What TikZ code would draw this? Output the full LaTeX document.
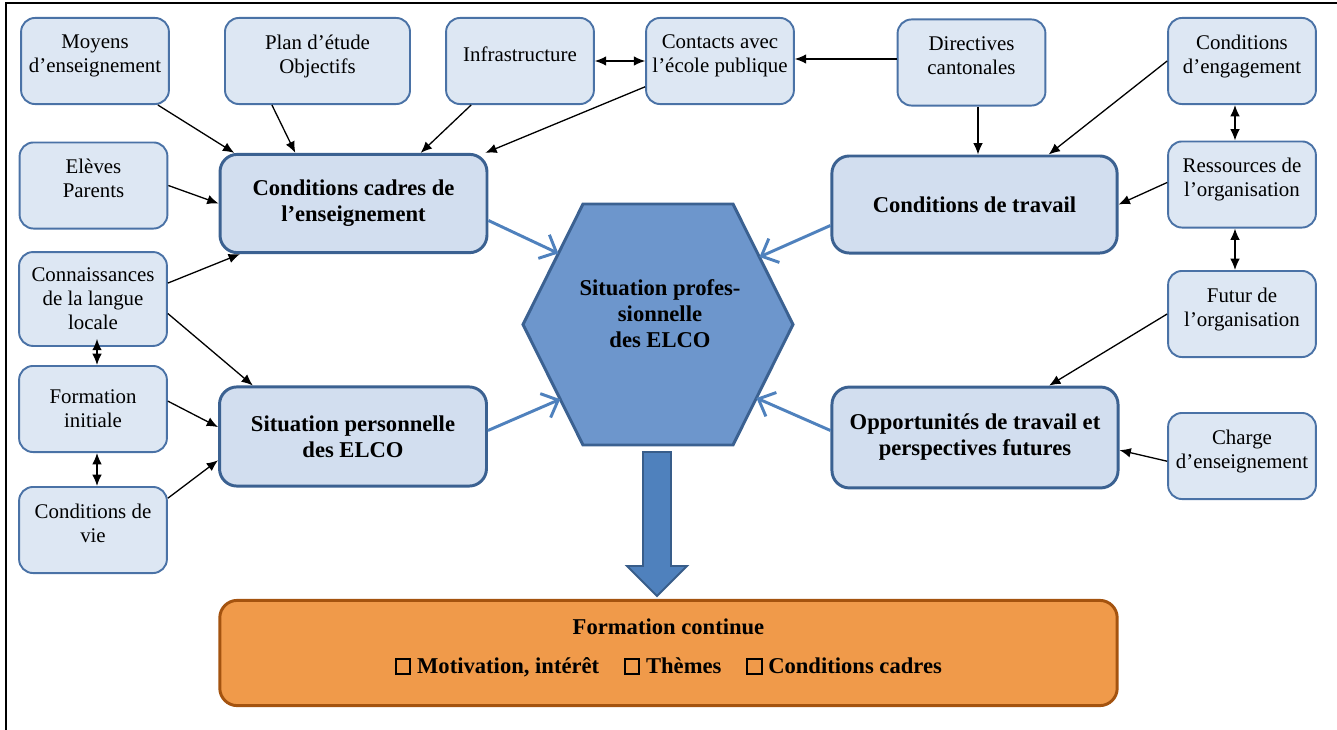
\documentclass[tikz,border=0pt]{standalone}
\usepackage{fontspec}
\setmainfont{Liberation Serif}
\usepackage{tikz}
\usetikzlibrary{arrows.meta,calc}

\definecolor{boxfill}{HTML}{DDE7F3}
\definecolor{boxline}{HTML}{4A72A6}
\definecolor{mainfill}{HTML}{D2DEEF}
\definecolor{mainline}{HTML}{3B6191}
\definecolor{hexfill}{HTML}{6D96CC}
\definecolor{flowblue}{HTML}{4F81BD}
\definecolor{flowline}{HTML}{385D8A}
\definecolor{orangefill}{HTML}{F09A4A}
\definecolor{orangeline}{HTML}{A4530F}

\newcommand{\chk}{{\setlength{\fboxsep}{0pt}\setlength{\fboxrule}{1.2pt}\fbox{\rule{0pt}{7.5pt}\hspace{7pt}}}}

\begin{document}
\begin{tikzpicture}[x=0.575pt, y=-0.575pt, >={Latex[length=6.5pt,width=5.5pt]},
  factor/.style={draw=boxline, fill=boxfill, line width=1.1pt, rounded corners=8pt, align=center,
    minimum width=85pt, minimum height=49.5pt, font=\fontsize{12}{13.8}\selectfont,
    execute at end node={\rule[-#1]{0pt}{#1}}},
  factor/.default=8pt,
  mainbox/.style={draw=mainline, fill=mainfill, line width=1.7pt, rounded corners=10pt, align=center,
    minimum width=153.5pt, minimum height=56.5pt, font=\bfseries\fontsize{13}{15}\selectfont},
  link/.style={->, line width=0.75pt},
  flow/.style={-{Straight Barb[length=8pt,width=15pt]}, draw=flowblue, line width=1.7pt}]
\useasboundingbox (0,0) rectangle (1337,730);
\draw[line width=1pt] (6,730) -- (6,3) -- (1337,3);

\node[factor] (moyens) at (95,61) {Moyens\\d’enseignement};
\node[factor, minimum width=106.4pt] (plan) at (317.5,61) {Plan d’étude\\Objectifs};
\node[factor] (infra) at (520,61) {Infrastructure};
\node[factor] (contacts) at (720,61) {Contacts avec\\l’école publique};
\node[factor] (directives) at (971.5,62.5) {Directives\\cantonales};
\node[factor] (engagement) at (1242,61) {Conditions\\d’engagement};
\node[factor] (eleves) at (93.5,185.5) {Elèves\\Parents};
\node[factor] (ressources) at (1242,184.5) {Ressources de\\l’organisation};
\node[factor=0pt, minimum height=54pt] (langue) at (93,299) {Connaissances\\de la langue\\locale};
\node[factor=0pt] (formation) at (93,409) {Formation\\initiale};
\node[factor] (futur) at (1242,314) {Futur de\\l’organisation};
\node[factor] (charge) at (1242,456) {Charge\\d’enseignement};
\node[factor] (vie) at (93,530) {Conditions de\\vie};

\node[mainbox] (cadres) at (353.5,203.5) {Conditions cadres de\\l’enseignement};
\node[mainbox, minimum width=164pt, minimum height=55.8pt] (travail) at (974.5,204.5) {Conditions de travail};
\node[mainbox, minimum height=57pt] (perso) at (353,436.5) {Situation personnelle\\des ELCO};
\node[mainbox, minimum width=164.5pt, minimum height=58pt] (opport) at (975,437.5) {Opportunités de travail et\\perspectives futures};

\coordinate (hexTL) at (583,204);
\coordinate (hexTR) at (733,204);
\coordinate (hexR) at (793,324.5);
\coordinate (hexBR) at (733,445);
\coordinate (hexBL) at (583,445);
\coordinate (hexL) at (523,324.5);
\draw[draw=mainline, fill=hexfill, line width=1.7pt] (hexTL) -- (hexTR) -- (hexR) -- (hexBR) -- (hexBL) -- (hexL) -- cycle;
\node[align=center, font=\bfseries\fontsize{13}{15}\selectfont] (prof) at (660,314) {Situation profes-\\sionnelle\\des ELCO};

\draw[draw=flowline, fill=flowblue, line width=1.1pt] (643,452) -- (671,452) -- (671,566) -- (687,566) -- (657,596) -- (627,566) -- (643,566) -- cycle;

\node[draw=orangeline, fill=orangefill, line width=1.7pt, rounded corners=10pt, minimum width=516pt, minimum height=60.5pt,
  align=center, font=\bfseries\fontsize{13}{15}\selectfont] (continue) at (668.5,653)
  {Formation continue\\[7pt]\chk\ Motivation, intérêt\hspace{1.1em}\chk\ Thèmes\hspace{1.1em}\chk\ Conditions cadres\rule[-8pt]{0pt}{8pt}};

\draw[link] (moyens.-35) -- (cadres.157);
\draw[link] (plan.-136) -- (cadres.139);
\draw[link] (infra.-138) -- (cadres.37);
\draw[link] (contacts.-161) -- (cadres.21.6);
\draw[link, <->] (infra.east) -- (contacts.west);
\draw[link] ($(directives.west)+(0,-3.5)$) -- ($(contacts.east)+(0,-2)$);
\draw[link] ($(directives.south)+(6.5,0)$) -- ($(travail.north)+(3.5,0)$);
\draw[link] (engagement.west) -- (travail.34);
\draw[link, <->] ($(engagement.south)+(-7,0)$) -- ($(ressources.north)+(-7,0)$);
\draw[link] ($(ressources.west)+(0,-2)$) -- (travail.east);
\draw[link, <->] ($(ressources.south)+(-7,0)$) -- ($(futur.north)+(-7,0)$);
\draw[link] (futur.west) -- (opport.35);
\draw[link] (charge.184) -- (opport.-5);
\draw[link] (eleves.east) -- (cadres.west);
\draw[link] (langue.12) -- (cadres.204);
\draw[link] (langue.-11) -- (perso.153);
\draw[link, <->] ($(langue.south)+(4,-8)$) -- ($(formation.north)+(4,0)$);
\draw[link] (formation.6) -- (perso.176);
\draw[link, <->] ($(formation.south)+(4,0)$) -- ($(vie.north)+(4,0)$);
\draw[link] (vie.23) -- (perso.190);

\draw[flow] ($(cadres.east)+(0,17)$) -- ($(hexTL)!0.41!(hexL)$);
\draw[flow] ($(travail.west)+(0,21)$) -- ($(hexTR)!0.44!(hexR)$);
\draw[flow] ($(perso.east)+(0,-6)$) -- ($(hexL)!0.62!(hexBL)$);
\draw[flow] ($(opport.west)+(0,-7)$) -- ($(hexR)!0.61!(hexBR)$);
\end{tikzpicture}
\end{document}
